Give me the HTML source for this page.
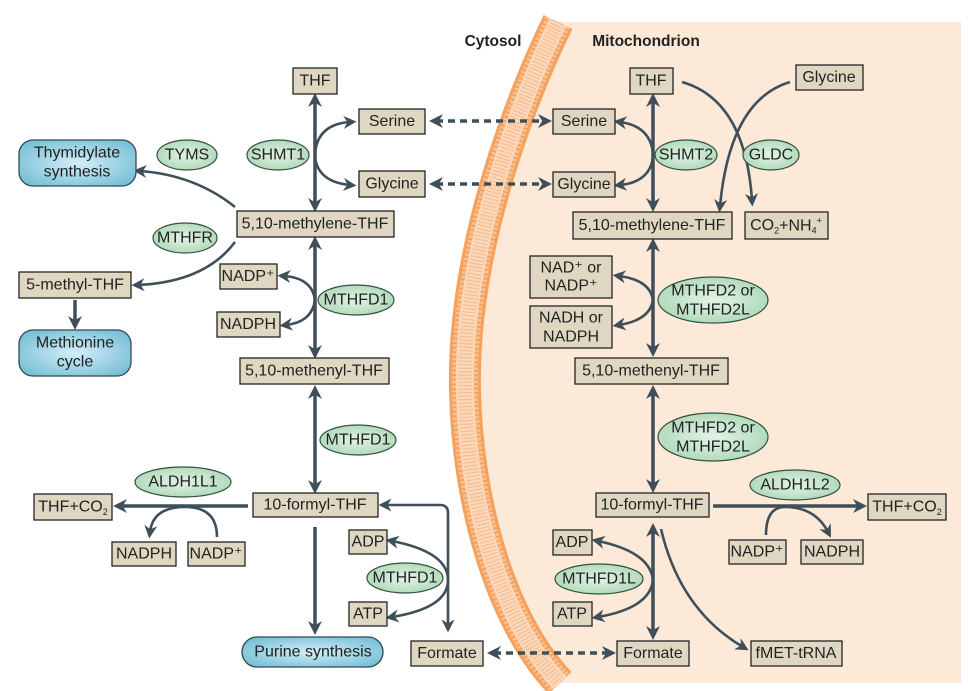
<!DOCTYPE html>
<html><head><meta charset="utf-8"><style>
html,body{margin:0;padding:0;background:#fff;}
svg{display:block;font-family:"Liberation Sans",sans-serif;}
.b{fill:#e0d7c2;stroke:#222;stroke-width:1.3;}
.t{font-size:16px;fill:#222;text-anchor:middle;dominant-baseline:central;}
.e{fill:url(#eg);stroke:#33503c;stroke-width:1.2;}
.m{stroke:#3e4f5a;stroke-width:3.5;fill:none;}
.c{stroke:#3e4f5a;stroke-width:2.6;fill:none;}
.d{stroke:#3e4f5a;stroke-width:3.5;fill:none;stroke-dasharray:7 5;}
.p{fill:url(#bg);stroke:#2f4a55;stroke-width:1.3;}
</style></head><body>
<svg width="968" height="691" viewBox="0 0 968 691" xmlns="http://www.w3.org/2000/svg">
<defs>
<radialGradient id="eg" cx="50%" cy="50%" r="60%"><stop offset="0" stop-color="#e3f3e6"/><stop offset="1" stop-color="#a9d6b4"/></radialGradient>
<radialGradient id="bg" cx="50%" cy="50%" r="70%"><stop offset="0" stop-color="#d3eef6"/><stop offset="1" stop-color="#6ab8d2"/></radialGradient>
<marker id="a" viewBox="0 0 10 10" refX="5" refY="5" markerWidth="4" markerHeight="4" orient="auto-start-reverse"><path d="M0,0 L10,5 L0,10 L3,5 z" fill="#3e4f5a"/></marker>
<marker id="s" viewBox="0 0 10 10" refX="5" refY="5" markerWidth="5" markerHeight="5" orient="auto-start-reverse"><path d="M0,0 L10,5 L0,10 L3,5 z" fill="#3e4f5a"/></marker>
</defs>
<!-- mitochondrion -->
<path d="M558,22 C520,100 462,250 465,390 C467,500 500,620 560,683 L961,683 L961,22 Z" fill="#fce9d8"/>
<g fill="none">
<path d="M558,22 C520,100 462,250 465,390 C467,500 500,620 560,683" stroke="#f4a25e" stroke-width="32"/>
<path d="M558,22 C520,100 462,250 465,390 C467,500 500,620 560,683" stroke="#fcd9bd" stroke-width="18"/>
<path d="M558,22 C520,100 462,250 465,390 C467,500 500,620 560,683" stroke="#f3b585" stroke-width="14" stroke-dasharray="1 2.5"/>
<path d="M558,22 C520,100 462,250 465,390 C467,500 500,620 560,683" stroke="#fbd0ab" stroke-width="26" stroke-dasharray="2.5 2" opacity="0.7"/>
<path d="M558,22 C520,100 462,250 465,390 C467,500 500,620 560,683" stroke="#fcd9bd" stroke-width="18" opacity="0.6"/>
<path d="M558,22 C520,100 462,250 465,390 C467,500 500,620 560,683" stroke="#f3b585" stroke-width="14" stroke-dasharray="1 2.5" opacity="0.8"/>
</g>
<text x="493" y="46" style="font-size:15.5px;font-weight:bold;fill:#222;text-anchor:middle">Cytosol</text>
<text x="646" y="46" style="font-size:15.5px;font-weight:bold;fill:#222;text-anchor:middle">Mitochondrion</text>

<!-- LEFT lines -->
<line class="m" x1="315" y1="100" x2="315" y2="205" marker-start="url(#a)" marker-end="url(#a)"/>
<line class="m" x1="315" y1="243" x2="315" y2="352" marker-start="url(#a)" marker-end="url(#a)"/>
<line class="m" x1="315" y1="392" x2="315" y2="487" marker-start="url(#a)" marker-end="url(#a)"/>
<line class="m" x1="315" y1="527" x2="315" y2="628" marker-end="url(#a)"/>
<line class="m" x1="248" y1="506" x2="120" y2="506" marker-end="url(#a)"/>
<path class="c" d="M315,153 Q318,124 350,122" marker-end="url(#s)"/>
<path class="c" d="M315,157 Q318,182 350,185" marker-end="url(#s)"/>
<path class="c" d="M315,300 Q312,278 284,276" marker-end="url(#s)"/>
<path class="c" d="M315,300 Q312,322 286,325" marker-end="url(#s)"/>
<path class="c" d="M235,207 Q195,175 140,171" marker-end="url(#s)"/>
<path class="c" d="M235,242 Q205,282 138,285" marker-end="url(#s)"/>
<line class="m" x1="75" y1="300" x2="75" y2="323" marker-end="url(#a)"/>
<path class="c" d="M217,537 Q217,507 185,507 Q153,507 150,532" marker-end="url(#s)"/>
<path class="c" d="M392,541 Q448,552 448,580 Q448,608 392,617" marker-start="url(#s)" marker-end="url(#s)"/>
<path class="c" d="M385,505 H440 Q448,505 448,513 V626" marker-start="url(#s)" marker-end="url(#s)"/>
<line class="d" x1="436" y1="121" x2="545" y2="121" marker-start="url(#a)" marker-end="url(#a)"/>
<line class="d" x1="436" y1="184" x2="545" y2="184" marker-start="url(#a)" marker-end="url(#a)"/>
<line class="d" x1="494" y1="653" x2="609" y2="653" marker-start="url(#a)" marker-end="url(#a)"/>

<!-- RIGHT lines -->
<line class="m" x1="653" y1="100" x2="653" y2="205" marker-start="url(#a)" marker-end="url(#a)"/>
<line class="m" x1="653" y1="245" x2="653" y2="350" marker-start="url(#a)" marker-end="url(#a)"/>
<line class="m" x1="653" y1="392" x2="653" y2="486" marker-start="url(#a)" marker-end="url(#a)"/>
<line class="m" x1="653" y1="530" x2="653" y2="633" marker-start="url(#a)" marker-end="url(#a)"/>
<line class="m" x1="713" y1="506" x2="860" y2="506" marker-end="url(#a)"/>
<path class="c" d="M653,153 Q650,126 620,122" marker-end="url(#s)"/>
<path class="c" d="M653,157 Q650,182 620,185" marker-end="url(#s)"/>
<path class="c" d="M653,300 Q650,280 619,276" marker-end="url(#s)"/>
<path class="c" d="M653,300 Q650,320 619,325" marker-end="url(#s)"/>
<path class="c" d="M682,82 Q745,100 752,200" marker-end="url(#s)"/>
<path class="c" d="M790,82 Q730,100 720,206" marker-end="url(#s)"/>
<path class="c" d="M766,535 Q766,507 785,507 Q815,507 828,532" marker-end="url(#s)"/>
<path class="c" d="M598,541 Q650,552 653,580 Q650,608 598,617" marker-start="url(#s)" marker-end="url(#s)"/>
<path class="c" d="M661,529 Q680,610 743,647" marker-end="url(#s)"/>

<!-- LEFT boxes -->
<rect class="b" x="293" y="68" width="44" height="26"/><text class="t" x="315" y="81">THF</text>
<rect class="b" x="359" y="109" width="66" height="25"/><text class="t" x="392" y="121.5">Serine</text>
<rect class="b" x="359" y="171" width="66" height="26"/><text class="t" x="392" y="184">Glycine</text>
<ellipse class="e" cx="278" cy="155" rx="31" ry="15"/><text class="t" x="278" y="155">SHMT1</text>
<ellipse class="e" cx="187" cy="155" rx="30" ry="15"/><text class="t" x="187" y="155">TYMS</text>
<rect class="p" x="19" y="140" width="117" height="46" rx="14"/><text class="t" x="77" y="153">Thymidylate</text><text class="t" x="77" y="172">synthesis</text>
<rect class="b" x="237" y="211" width="157" height="26"/><text class="t" x="315" y="224">5,10-methylene-THF</text>
<ellipse class="e" cx="185" cy="238" rx="32" ry="15"/><text class="t" x="185" y="238">MTHFR</text>
<rect class="b" x="19" y="272" width="112" height="26"/><text class="t" x="75" y="285">5-methyl-THF</text>
<rect class="p" x="19" y="330" width="112" height="46" rx="14"/><text class="t" x="75" y="343">Methionine</text><text class="t" x="75" y="362">cycle</text>
<rect class="b" x="220" y="264" width="57" height="25"/><text class="t" x="248" y="276.5">NADP⁺</text>
<rect class="b" x="217" y="312" width="63" height="25"/><text class="t" x="248" y="324.5">NADPH</text>
<ellipse class="e" cx="356" cy="300" rx="38" ry="15"/><text class="t" x="356" y="300">MTHFD1</text>
<rect class="b" x="240" y="358" width="149" height="26"/><text class="t" x="314" y="371">5,10-methenyl-THF</text>
<ellipse class="e" cx="358" cy="440" rx="38" ry="15"/><text class="t" x="358" y="440">MTHFD1</text>
<rect class="b" x="253" y="493" width="125" height="24"/><text class="t" x="315" y="505">10-formyl-THF</text>
<ellipse class="e" cx="183" cy="482" rx="48" ry="15"/><text class="t" x="183" y="482">ALDH1L1</text>
<rect class="b" x="34" y="494" width="78" height="26"/><text class="t" x="73" y="507">THF+CO<tspan font-size="9" dy="5">2</tspan></text>
<rect class="b" x="112" y="542" width="64" height="24"/><text class="t" x="144" y="554">NADPH</text>
<rect class="b" x="188" y="542" width="57" height="24"/><text class="t" x="216" y="554">NADP⁺</text>
<rect class="b" x="349" y="530" width="38" height="24"/><text class="t" x="368" y="542">ADP</text>
<rect class="b" x="349" y="602" width="38" height="24"/><text class="t" x="368" y="614">ATP</text>
<ellipse class="e" cx="405" cy="578" rx="38" ry="15"/><text class="t" x="405" y="578">MTHFD1</text>
<rect class="p" x="242" y="637" width="141" height="30" rx="15"/><text class="t" x="313" y="652">Purine synthesis</text>
<rect class="b" x="411" y="641" width="72" height="25"/><text class="t" x="447" y="653.5">Formate</text>

<!-- RIGHT boxes -->
<rect class="b" x="630" y="68" width="43" height="26"/><text class="t" x="651" y="81">THF</text>
<rect class="b" x="796" y="65" width="67" height="25"/><text class="t" x="829" y="77.5">Glycine</text>
<rect class="b" x="553" y="109" width="62" height="25"/><text class="t" x="584" y="121.5">Serine</text>
<rect class="b" x="553" y="172" width="62" height="25"/><text class="t" x="584" y="184.5">Glycine</text>
<ellipse class="e" cx="686" cy="155" rx="31" ry="15"/><text class="t" x="686" y="155">SHMT2</text>
<ellipse class="e" cx="771" cy="155" rx="28" ry="15"/><text class="t" x="771" y="155">GLDC</text>
<rect class="b" x="573" y="212" width="159" height="27"/><text class="t" x="652" y="225.5">5,10-methylene-THF</text>
<rect class="b" x="745" y="212" width="83" height="27"/><text class="t" x="786" y="225.5">CO<tspan font-size="9" dy="5">2</tspan><tspan dy="-5">+NH</tspan><tspan font-size="9" dy="5">4</tspan><tspan font-size="9" dy="-10">+</tspan></text>
<rect class="b" x="530" y="256" width="82" height="42"/><text class="t" x="571" y="268">NAD⁺ or</text><text class="t" x="571" y="286">NADP⁺</text>
<rect class="b" x="530" y="306" width="82" height="42"/><text class="t" x="571" y="318">NADH or</text><text class="t" x="571" y="337">NADPH</text>
<ellipse class="e" cx="713" cy="300" rx="55" ry="23"/><text class="t" x="713" y="291">MTHFD2 or</text><text class="t" x="713" y="310">MTHFD2L</text>
<rect class="b" x="575" y="358" width="153" height="26"/><text class="t" x="651" y="371">5,10-methenyl-THF</text>
<ellipse class="e" cx="713" cy="437" rx="55" ry="24"/><text class="t" x="713" y="428">MTHFD2 or</text><text class="t" x="713" y="447">MTHFD2L</text>
<rect class="b" x="596" y="493" width="113" height="24"/><text class="t" x="652" y="505">10-formyl-THF</text>
<ellipse class="e" cx="795" cy="485" rx="45" ry="15"/><text class="t" x="795" y="485">ALDH1L2</text>
<rect class="b" x="868" y="494" width="78" height="26"/><text class="t" x="907" y="507">THF+CO<tspan font-size="9" dy="5">2</tspan></text>
<rect class="b" x="729" y="540" width="57" height="24"/><text class="t" x="757" y="552">NADP⁺</text>
<rect class="b" x="801" y="540" width="62" height="24"/><text class="t" x="832" y="552">NADPH</text>
<rect class="b" x="553" y="530" width="39" height="25"/><text class="t" x="572" y="542.5">ADP</text>
<rect class="b" x="553" y="602" width="39" height="24"/><text class="t" x="572" y="614">ATP</text>
<ellipse class="e" cx="599" cy="579" rx="44" ry="15"/><text class="t" x="599" y="579">MTHFD1L</text>
<rect class="b" x="617" y="641" width="72" height="25"/><text class="t" x="653" y="653.5">Formate</text>
<rect class="b" x="751" y="641" width="91" height="25"/><text class="t" x="796" y="653.5">fMET-tRNA</text>
</svg>
</body></html>
